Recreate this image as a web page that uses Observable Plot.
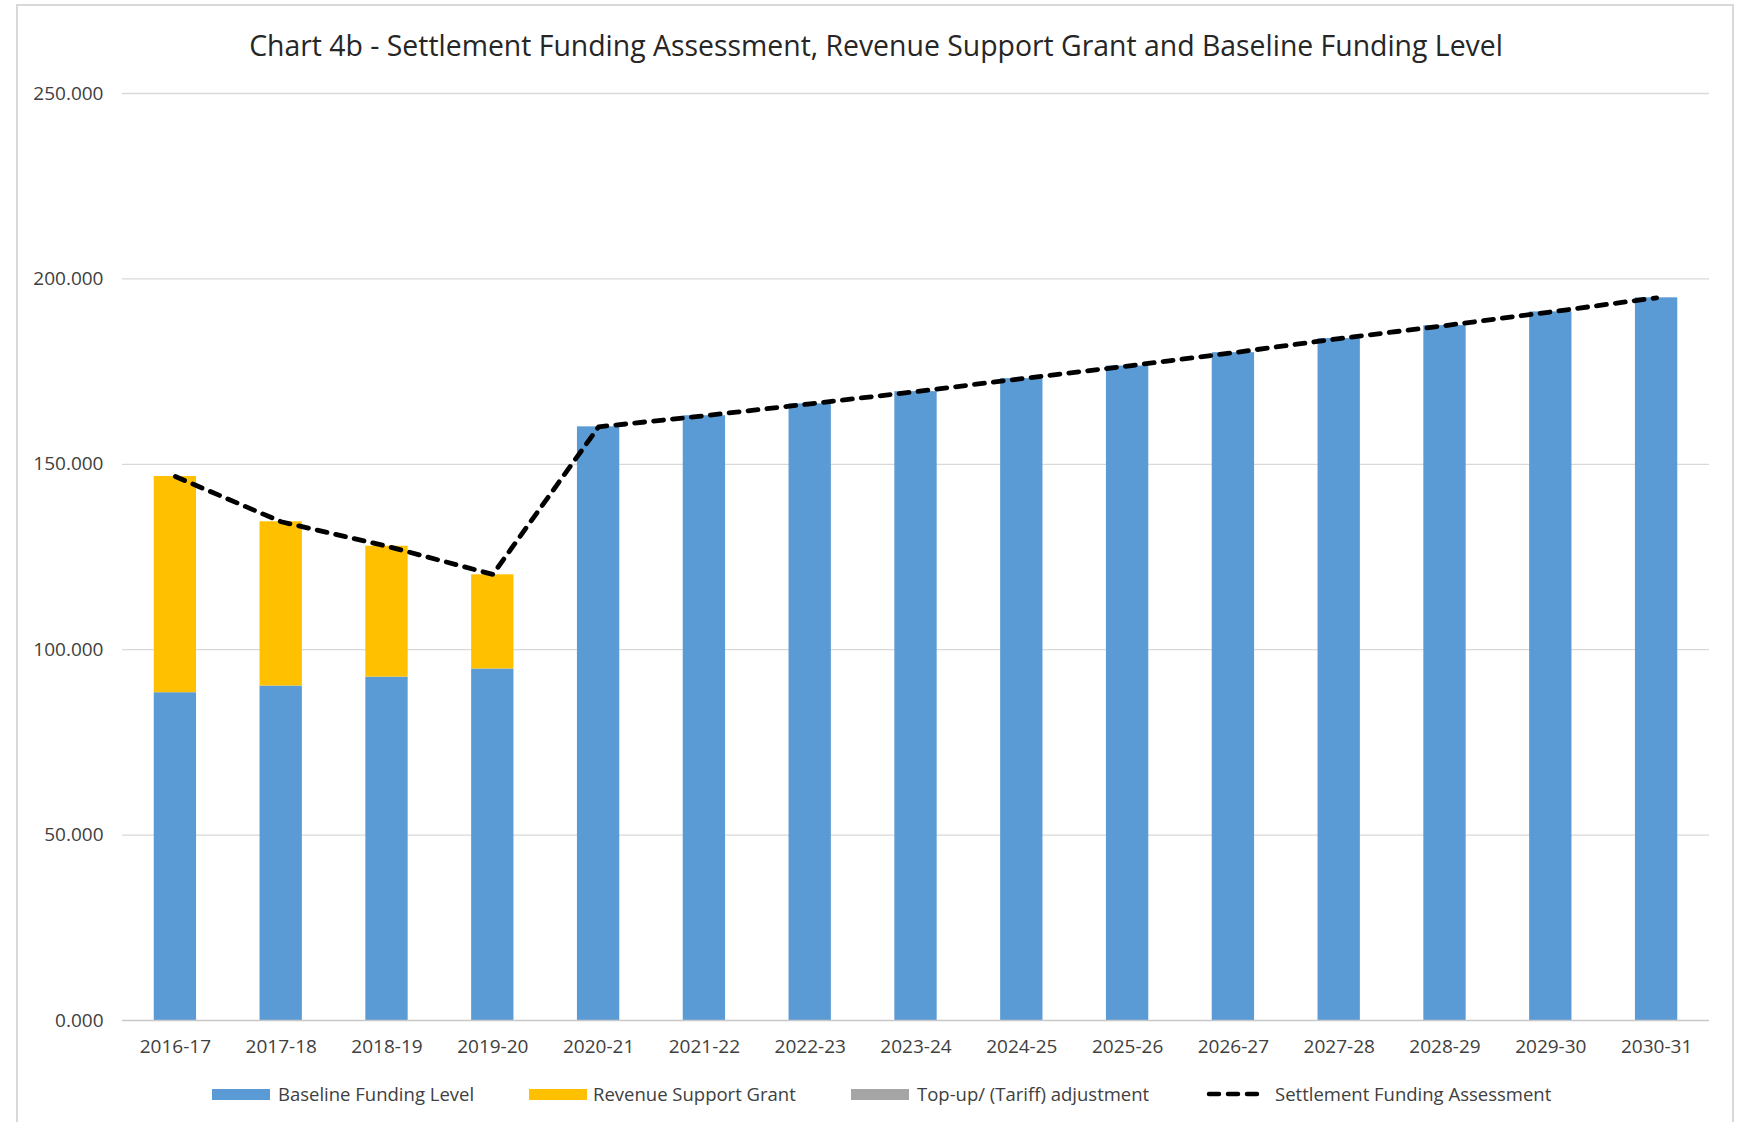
<!DOCTYPE html>
<html>
<head>
<meta charset="utf-8">
<script src="https://cdn.jsdelivr.net/npm/d3@7"></script>
<script src="https://cdn.jsdelivr.net/npm/@observablehq/plot@0.6"></script>
<style>
  html, body { margin: 0; padding: 0; background: #fff; width: 1749px; height: 1122px; overflow: hidden; }
  body { position: relative; font-family: "Open Sans", sans-serif; }
  #frame { position: absolute; left: 16px; top: 4px; width: 1718px; height: 1140px; border: 2px solid #d9d9d9; box-sizing: border-box; }
  #title { position: absolute; left: 0; top: 27px; width: 1752px; height: 36px; line-height: 36px; text-align: center; font-size: 28.4px; color: #262626; }
  #chart { position: absolute; left: 0; top: 70px; }
  .lg { position: absolute; top: 1081px; height: 26px; line-height: 26px; font-size: 18.5px; color: #404040; white-space: nowrap; }
  .sw { position: absolute; top: 1089px; height: 11px; }
</style>
</head>
<body>
<div id="frame"></div>
<div id="title">Chart 4b - Settlement Funding Assessment, Revenue Support Grant and Baseline Funding Level</div>
<div id="chart"></div>
<div id="legend"></div>
<script>
const years = ["2016-17","2017-18","2018-19","2019-20","2020-21","2021-22","2022-23","2023-24","2024-25","2025-26","2026-27","2027-28","2028-29","2029-30","2030-31"];
const baseline = [88.4, 90.2, 92.6, 94.8, 160.1, 163.1, 166.3, 169.6, 173.1, 176.5, 180.1, 183.9, 187.4, 191.1, 194.9];
const revenueSupportGrant = [58.3, 44.3, 35.3, 25.4, 0, 0, 0, 0, 0, 0, 0, 0, 0, 0, 0];
const topUpTariff = [0, 0, 0, 0, 0, 0, 0, 0, 0, 0, 0, 0, 0, 0, 0];
const settlementFundingAssessment = [146.7, 134.5, 127.9, 120.3, 160.1, 163.1, 166.3, 169.6, 173.1, 176.5, 180.1, 183.9, 187.4, 191.1, 194.9];
const barSeries = ["Baseline Funding Level", "Revenue Support Grant", "Top-up/ (Tariff) adjustment"];
const barColors = ["#5B9BD5", "#FFC000", "#A5A5A5"];
const lineSeries = "Settlement Funding Assessment";
const yTicks = [0, 50, 100, 150, 200, 250];

const barValues = [baseline, revenueSupportGrant, topUpTariff];
const rows = [];
years.forEach((yr, i) => {
  barSeries.forEach((s, k) => rows.push({year: yr, series: s, value: barValues[k][i]}));
});
const lineRows = years.map((yr, i) => ({year: yr, value: settlementFundingAssessment[i]}));

const chart = Plot.plot({
  width: 1749,
  height: 995,
  marginTop: 23,
  marginBottom: 45,
  marginLeft: 122,
  marginRight: 40,
  x: {domain: years, paddingInner: 0.6, paddingOuter: 0.3, round: false, label: null},
  y: {domain: [0, 250], label: null},
  color: {domain: barSeries, range: barColors},
  style: {fontFamily: "'Open Sans', sans-serif", fontSize: "19px", color: "#404040", background: "transparent"},
  marks: [
    Plot.ruleY(yTicks.filter(d => d > 0), {stroke: "#d9d9d9", strokeWidth: 1.3}),
    Plot.barY(rows, {x: "year", y: "value", fill: "series", order: barSeries}),
    Plot.ruleY([0], {stroke: "#c8c8c8", strokeWidth: 1.3}),
    Plot.line(lineRows, {x: "year", y: "value", stroke: "#000", strokeWidth: 4.8, strokeDasharray: "10,9", strokeLinecap: "round"}),
    Plot.axisX({tickSize: 0, tickPadding: 19, label: null}),
    Plot.axisY({ticks: yTicks, tickSize: 0, tickPadding: 19, tickFormat: d3.format(".3f"), label: null})
  ]
});
document.getElementById("chart").appendChild(chart);

// legend
const legend = document.getElementById("legend");
const swatchLeft = [212, 529, 851];
const textLeft = [278, 593, 917];
barSeries.forEach((s, k) => {
  const sw = document.createElement("div");
  sw.className = "sw";
  sw.style.left = swatchLeft[k] + "px";
  sw.style.width = "58px";
  sw.style.background = barColors[k];
  legend.appendChild(sw);
  const t = document.createElement("div");
  t.className = "lg";
  t.style.left = textLeft[k] + "px";
  t.textContent = s;
  legend.appendChild(t);
});
const ln = document.createElementNS("http://www.w3.org/2000/svg", "svg");
ln.setAttribute("width", "66");
ln.setAttribute("height", "12");
ln.style.position = "absolute";
ln.style.left = "1203px";
ln.style.top = "1088px";
const l = document.createElementNS("http://www.w3.org/2000/svg", "line");
l.setAttribute("x1", "6"); l.setAttribute("x2", "62");
l.setAttribute("y1", "6"); l.setAttribute("y2", "6");
l.setAttribute("stroke", "#000");
l.setAttribute("stroke-width", "4.5");
l.setAttribute("stroke-dasharray", "10,9");
l.setAttribute("stroke-linecap", "round");
ln.appendChild(l);
legend.appendChild(ln);
const lt = document.createElement("div");
lt.className = "lg";
lt.style.left = "1275px";
lt.textContent = lineSeries;
legend.appendChild(lt);
</script>
</body>
</html>
